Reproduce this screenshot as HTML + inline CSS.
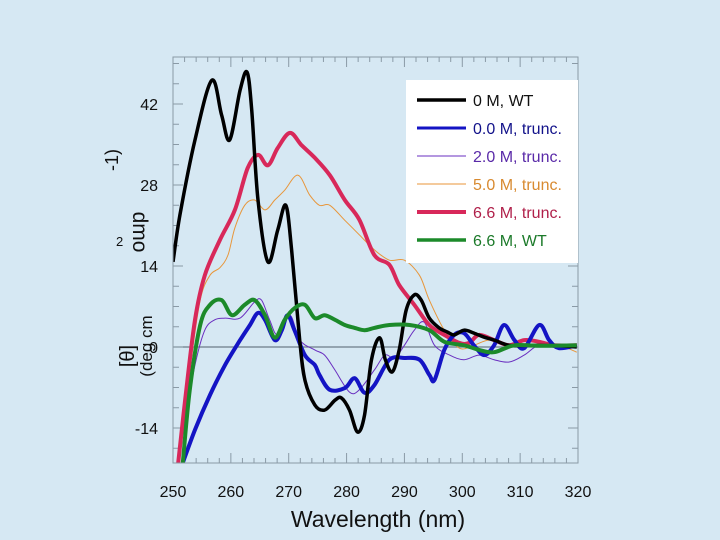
<!DOCTYPE html>
<html><head><meta charset="utf-8"><style>
html,body{margin:0;padding:0;background:#d6e8f3;}
svg{display:block;font-family:"Liberation Sans",sans-serif;}
</style></head><body>
<svg id="chart" width="720" height="540" viewBox="0 0 720 540">
<rect x="0" y="0" width="720" height="540" fill="#d6e8f3"/>
<g id="grid"></g>
<g id="series"></g>
<rect x="173" y="57" width="405" height="406" fill="none" stroke="#8a9aa6" stroke-width="1"/>
<g>
<rect x="406" y="80" width="172" height="183" fill="#ffffff"/>
</g>
<g id="legend"></g>
<text x="378" y="527" font-size="23" text-anchor="middle" fill="#111">Wavelength (nm)</text>
<g fill="#111">
<text transform="translate(134,356) rotate(-90)" font-size="20" text-anchor="middle">[θ]</text>
<text transform="translate(152,346) rotate(-90)" font-size="17" text-anchor="middle">(deg cm</text>
<text x="116" y="246" font-size="13">2</text>
<text transform="translate(133,232) rotate(90)" font-size="21" text-anchor="middle">dmo</text>
<text transform="translate(118,160) rotate(-90)" font-size="18" text-anchor="middle">-1)</text>
</g>
</svg>
<script>
const xTicks=[250,260,270,280,290,300,310,320];
const yTicks=[-14,0,14,28,42];
const seriesNames=["0 M, WT","0.0 M, trunc.","2.0 M, trunc.","5.0 M, trunc.","6.6 M, trunc.","6.6 M, WT"];
const wtX=[250,251.2,253.8,256.7,258.4,259.8,261.6,262.8,263.6,264.7,266.4,268.1,269.5,270.5,271.9,272.8,274.5,276.2,278,279.1,280.5,281.9,283.1,284.3,285.7,286.7,287.9,289.1,290.3,291.7,292.9,294.3,296,297.4,298.6,300.3,302,303.8,305.5,308.1,311.6,316.7,319.8];
const wtY=[14.7,22.8,35.8,46.1,40.1,35.8,44.4,47.5,41,25.4,14.7,20.2,24.5,16.8,1.2,-5.7,-10,-10.9,-9.2,-8.8,-10.9,-14.7,-11.8,-2.2,1.6,-2.2,-4.3,-0.5,6.4,9,8.1,5,3.3,2.6,2.1,2.9,2.4,1.7,1.2,0.3,0.3,0.2,0];
const t0X=[251.7,253.8,256.4,259,261.6,263.3,264.7,265.9,267.6,268.8,269.8,271,272.8,274.5,275.3,277.1,279.7,281.4,283.1,284.8,287.4,290,292.6,294.3,295.2,296.9,298.6,300.3,302,303.8,305.5,307.2,309,310.7,313.3,315,316.7,319.8];
const t0Y=[-20,-14.3,-8.3,-3.1,1.2,3.8,5.9,4.7,1.2,2.9,5.5,2.9,-1.4,-3.1,-4.8,-7.4,-7.1,-5.4,-7.9,-6.6,-2.2,-1.9,-2.2,-4.8,-5.7,-0.5,2.1,2.4,0.3,-1.4,0.3,3.8,1.2,-0.2,3.8,1.2,-0.2,0.3];
const t2X=[250.9,252.1,253.8,255.5,257.2,259,261.6,264.1,265.3,266.7,268.1,270.2,271.9,274.5,276.2,278,280.5,282.2,284.8,286.6,288.3,290,291.7,293.4,295.2,297.8,300.3,302.9,305.5,308.1,310.7,313.3,316.7,319.8];
const t2Y=[-20,-12.6,-3.1,2.9,4.7,5,5,7.8,8.1,4.7,2.1,5.5,1.2,-0.5,-1.4,-4,-7.8,-7.4,-4,-1.4,-1.9,0.3,2.9,4.3,0.3,-1.4,-2.2,-1.4,-2.2,-2.6,-1.4,0.3,-0.2,0.2];
const t5X=[251.2,252.9,254.7,256.4,258.1,259.5,260.7,262.4,264.1,265.9,267.6,269.3,271.6,273.6,275.3,277.1,279.7,282.2,284.8,287.4,290,292.6,294.3,296.9,299.5,302,304.7,308.1,313.3,316.7,319.8];
const t5Y=[-17.8,-4,8.1,12.4,13.7,15.9,20.6,24.5,25.4,23.7,25.4,27.1,29.7,26.3,24.5,24.5,21.9,19.4,16.8,15,15,12.4,8.1,2.9,-0.2,0.3,1.2,0.3,0.3,0.3,-0.9];
const t66X=[250.9,252.1,253.8,255.5,258.1,260.7,262.9,264.7,266.4,268.1,270.2,272.2,274.5,277.1,279.7,282.2,284.8,287.4,289.1,291.7,294.3,296.9,299.5,301.2,302.9,305.5,308.1,310.7,313.3,315.9,319.8];
const t66Y=[-20,-9.2,4.7,12.4,18.5,23.7,30.9,33.2,31.4,34.4,37,34.9,32.7,29.7,25.4,22,15.9,14.2,10.7,7.3,3.8,2.1,0.7,0.7,2.1,1.2,0.3,1.2,0.9,0.3,0.3];
const w66X=[251.7,252.9,254.7,256.4,258.4,260.2,262.4,264.1,265.9,267.6,269.3,271,272.8,274.5,276.2,278,279.7,281.4,283.1,284.8,287.4,290.9,294.3,296.9,300.3,302.9,305.5,309,313.3,319.8];
const w66Y=[-20,-7.4,3.8,7.3,8.1,5.5,7.3,8.1,5.5,1.6,4.7,6.7,7.3,5,5.5,4.7,3.8,3.3,2.9,3.3,3.8,3.8,2.9,0.9,0.3,-0.5,-0.9,0.3,0.2,0.3];

const NS="http://www.w3.org/2000/svg";
const L=173,R=578,T=57,B=463;
function xs(v){return L+(v-250)*(R-L)/70;}
function ys(v){return 347-v*81/14;}
function mk(tag,attrs,parent){const e=document.createElementNS(NS,tag);for(const k in attrs)e.setAttribute(k,attrs[k]);parent.appendChild(e);return e;}
const grid=document.getElementById('grid');
let z=mk('line',{x1:L,x2:R,y1:ys(0),y2:ys(0),stroke:'#6d7c88','stroke-width':1.2},grid);


for(let v=250;v<=320;v+=2){
  const major=v%10===0, len=major?10:5;
  const x=xs(v);
  let t=mk('line',{x1:x,x2:x,y1:B,y2:B-len,stroke:'#8a9aa6'},grid);
  
  
  let t2=mk('line',{x1:x,x2:x,y1:T,y2:T+len,stroke:'#8a9aa6'},grid);
  
  
}
xTicks.forEach(v=>{
  const t=mk('text',{x:xs(v),y:497,'font-size':16,'text-anchor':'middle',fill:'#111'},grid);
  t.textContent=v;
  
  
});
for(let v=-17.5;v<=49;v+=3.5){
  const major=Math.abs(v%14)<0.01, len=major?10:6;
  const y=ys(v);
  if(y<T||y>B)continue;
  let t=mk('line',{x1:L,x2:L+len,y1:y,y2:y,stroke:'#8a9aa6'},grid);
  
  
  let t2=mk('line',{x1:R,x2:R-len,y1:y,y2:y,stroke:'#8a9aa6'},grid);
  
  
}
yTicks.forEach(v=>{
  const t=mk('text',{x:158,y:ys(v)+6,'font-size':16,'text-anchor':'end',fill:'#111'},grid);
  t.textContent=v;
  
  
});
function pathD(X,Y){
  const p=X.map((x,i)=>[xs(x),ys(Y[i])]);
  let d='M'+p[0][0].toFixed(1)+','+p[0][1].toFixed(1);
  for(let i=0;i<p.length-1;i++){
    const p0=p[Math.max(0,i-1)],p1=p[i],p2=p[i+1],p3=p[Math.min(p.length-1,i+2)];
    const c1=[p1[0]+(p2[0]-p0[0])/6,p1[1]+(p2[1]-p0[1])/6];
    const c2=[p2[0]-(p3[0]-p1[0])/6,p2[1]-(p3[1]-p1[1])/6];
    d+=' C'+c1.map(n=>n.toFixed(1))+' '+c2.map(n=>n.toFixed(1))+' '+p2.map(n=>n.toFixed(1));
  }
  return d;
}
const series=document.getElementById('series');
const defs=[[t5X,t5Y,'#e8963a',1],[t2X,t2Y,'#6a2fc0',1],[t66X,t66Y,'#d8285a',4],[t0X,t0Y,'#1414c4',4],[wtX,wtY,'#000',3.5],[w66X,w66Y,'#1c8a2a',4]];
const sNames=['line-5-0m-trunc','line-2-0m-trunc','line-6-6m-trunc','line-0-0m-trunc','line-0m-wt','line-6-6m-wt'];
const clip=mk('clipPath',{id:'pc'},series);
mk('rect',{x:L,y:T,width:R-L,height:B-T},clip);
defs.forEach((s,i)=>{
  const p=mk('path',{d:pathD(s[0],s[1]),fill:'none',stroke:s[2],'stroke-width':s[3],'stroke-linejoin':'round','clip-path':'url(#pc)'},series);
  
  
});
const lg=document.getElementById('legend');
const lc=['#000','#1414c4','#6a2fc0','#e8963a','#d8285a','#1c8a2a'];
const lw=[3.5,3,1,1,4,3.5];
const tc=['#111','#12128a','#5a2aa8','#d88a30','#b0204a','#1c7a2a'];
seriesNames.forEach((n,i)=>{
  const y=100+i*28;
  const l=mk('line',{x1:417,x2:466,y1:y,y2:y,stroke:lc[i],'stroke-width':lw[i]},lg);
  
  
  const t=mk('text',{x:473,y:y+6,'font-size':16,fill:tc[i]},lg);
  t.textContent=n;
  
  
});
</script>
</body></html>
